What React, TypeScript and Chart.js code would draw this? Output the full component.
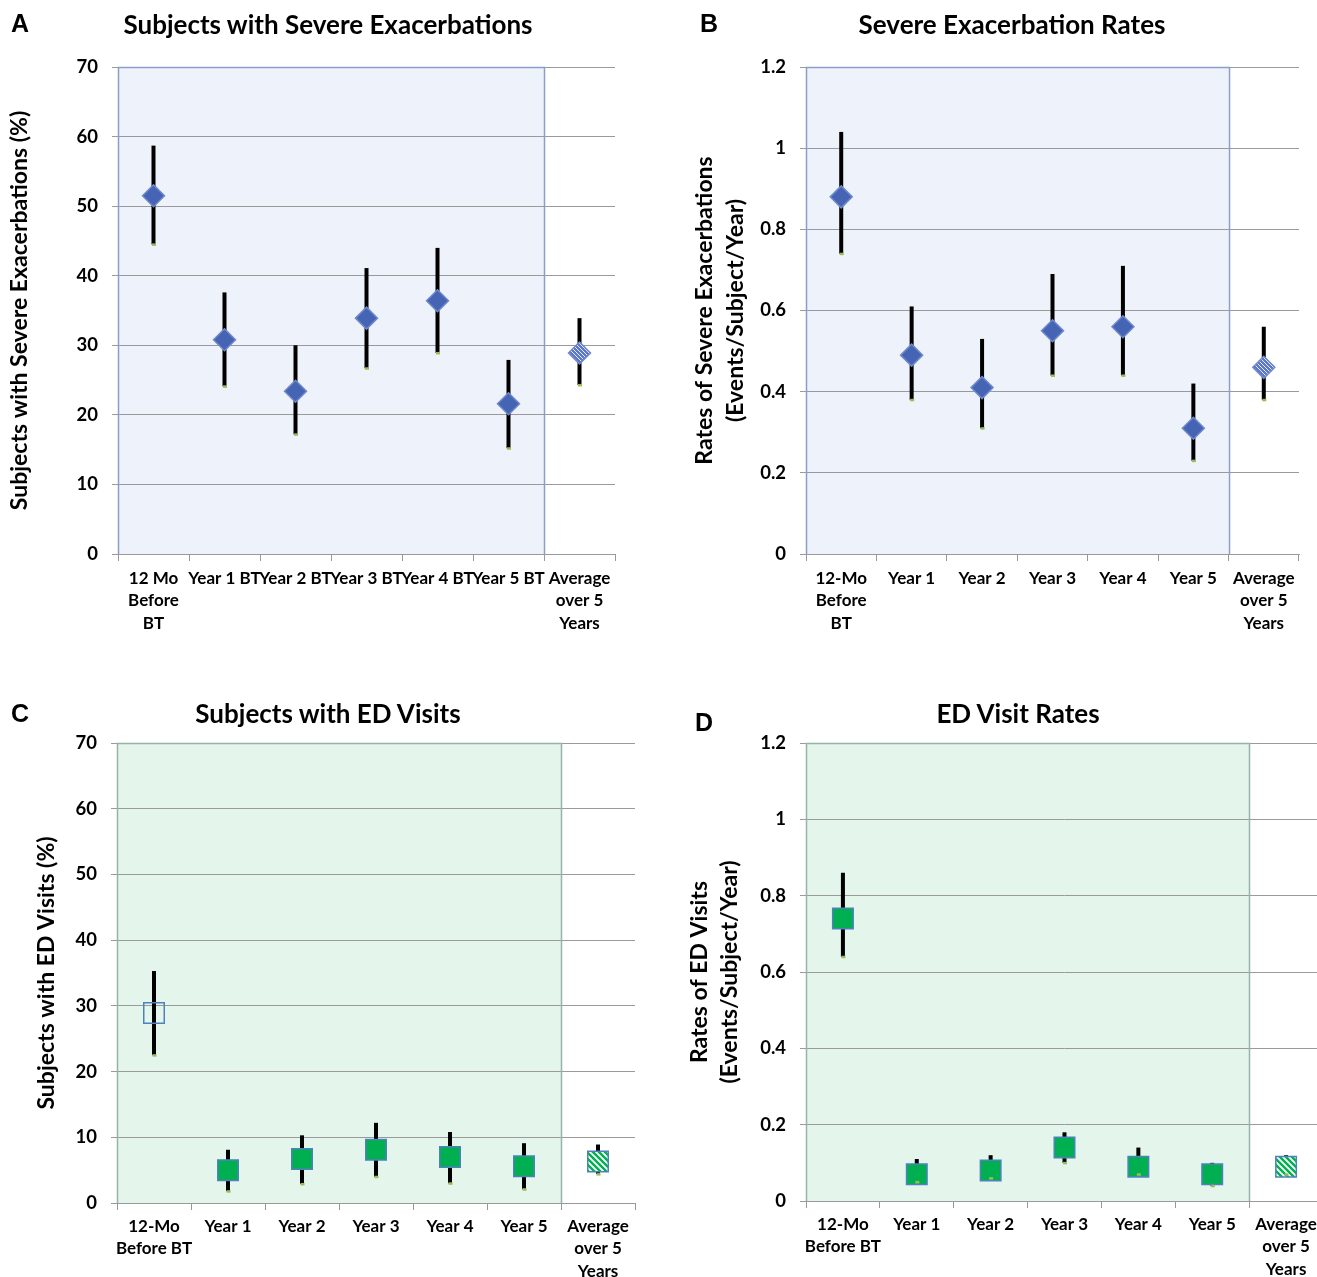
import React, { useEffect, useRef } from "react";
import { Chart, registerables } from "chart.js";

Chart.register(...registerables);

const FONT = "Lato, 'Open Sans', sans-serif";

// ---------- Panel A: Subjects with Severe Exacerbations (%) ----------
const categoriesA: (string | string[])[] = [
  ["12 Mo", "Before", "BT"],
  "Year 1 BT",
  "Year 2 BT",
  "Year 3 BT",
  "Year 4 BT",
  "Year 5 BT",
  ["Average", "over 5", "Years"],
];
const valuesA = [51.5, 30.8, 23.4, 33.9, 36.4, 21.6, 28.9];
const upperA = [58.7, 37.6, 30.0, 41.1, 44.0, 27.9, 33.9];
const lowerA = [44.5, 24.1, 17.2, 26.7, 28.9, 15.2, 24.3];
const yTicksA = [0, 10, 20, 30, 40, 50, 60, 70];

// ---------- Panel B: Severe Exacerbation Rates ----------
const categoriesB: (string | string[])[] = [
  ["12-Mo", "Before", "BT"],
  "Year 1",
  "Year 2",
  "Year 3",
  "Year 4",
  "Year 5",
  ["Average", "over 5", "Years"],
];
const valuesB = [0.88, 0.49, 0.41, 0.55, 0.56, 0.31, 0.46];
const upperB = [1.04, 0.61, 0.53, 0.69, 0.71, 0.42, 0.56];
const lowerB = [0.74, 0.38, 0.31, 0.44, 0.44, 0.23, 0.38];
const yTicksB = [0, 0.2, 0.4, 0.6, 0.8, 1, 1.2];

// ---------- Panel C: Subjects with ED Visits (%) ----------
const categoriesC: (string | string[])[] = [
  ["12-Mo", "Before BT"],
  "Year 1",
  "Year 2",
  "Year 3",
  "Year 4",
  "Year 5",
  ["Average", "over 5", "Years"],
];
const valuesC = [28.9, 5.0, 6.7, 8.1, 7.0, 5.6, 6.3];
const upperC = [35.3, 8.1, 10.3, 12.2, 10.8, 9.1, 8.9];
const lowerC = [22.5, 1.8, 2.9, 4.0, 3.0, 2.1, 4.4];
const yTicksC = [0, 10, 20, 30, 40, 50, 60, 70];

// ---------- Panel D: ED Visit Rates ----------
const categoriesD: (string | string[])[] = [
  ["12-Mo", "Before BT"],
  "Year 1",
  "Year 2",
  "Year 3",
  "Year 4",
  "Year 5",
  ["Average", "over 5", "Years"],
];
const valuesD = [0.74, 0.07, 0.08, 0.14, 0.09, 0.07, 0.09];
const upperD = [0.86, 0.11, 0.12, 0.18, 0.14, 0.1, 0.12];
const lowerD = [0.64, 0.05, 0.06, 0.1, 0.07, 0.04, 0.07];
const yTicksD = [0, 0.2, 0.4, 0.6, 0.8, 1, 1.2];

function stripes(bg: string, fg: string, period: number, lw: number) {
  const c = document.createElement("canvas");
  c.width = period;
  c.height = period;
  const g = c.getContext("2d")!;
  g.fillStyle = bg;
  g.fillRect(0, 0, period, period);
  g.strokeStyle = fg;
  g.lineWidth = lw;
  g.beginPath();
  for (const k of [-period, 0, period]) {
    g.moveTo(-1, -1 + k);
    g.lineTo(period + 1, period + 1 + k);
  }
  g.stroke();
  return g.createPattern(c, "repeat")!;
}

const shadePlugin = {
  id: "shade",
  beforeDraw(chart: any, _a: any, opts: any) {
    const { ctx, chartArea, scales } = chart;
    const x = scales.x;
    const right = (x.getPixelForValue(opts.last) + x.getPixelForValue(opts.last + 1)) / 2;
    ctx.save();
    ctx.fillStyle = opts.fill;
    ctx.fillRect(chartArea.left, chartArea.top, right - chartArea.left, chartArea.bottom - chartArea.top);
    ctx.restore();
  },
  beforeDatasetsDraw(chart: any, _a: any, opts: any) {
    const { ctx, chartArea, scales } = chart;
    const x = scales.x;
    const right = Math.round((x.getPixelForValue(opts.last) + x.getPixelForValue(opts.last + 1)) / 2) + 0.5;
    const left = Math.round(chartArea.left) + 0.5;
    const top = Math.round(chartArea.top) + 0.5;
    ctx.save();
    ctx.strokeStyle = opts.border;
    ctx.lineWidth = 1.5;
    ctx.beginPath();
    ctx.moveTo(left, chartArea.bottom);
    ctx.lineTo(left, top);
    ctx.lineTo(right, top);
    ctx.lineTo(right, chartArea.bottom);
    ctx.stroke();
    ctx.restore();
  },
};

const errorBarPlugin = {
  id: "errorBars",
  beforeDatasetsDraw(chart: any, _a: any, opts: any) {
    const { ctx, scales } = chart;
    const x = scales.x;
    const y = scales.y;
    ctx.save();
    ctx.strokeStyle = "#000";
    ctx.lineWidth = 4;
    ctx.lineCap = "butt";
    opts.upper.forEach((hi: number, i: number) => {
      const px = x.getPixelForValue(i);
      ctx.beginPath();
      ctx.moveTo(px, y.getPixelForValue(hi));
      ctx.lineTo(px, y.getPixelForValue(opts.lower[i]));
      ctx.stroke();
    });
    ctx.restore();
  },
  afterDatasetsDraw(chart: any, _a: any, opts: any) {
    const { ctx, scales } = chart;
    const x = scales.x;
    const y = scales.y;
    ctx.save();
    ctx.fillStyle = "#9BBB59";
    opts.lower.forEach((lo: number, i: number) => {
      const px = x.getPixelForValue(i);
      const py = y.getPixelForValue(lo);
      ctx.fillRect(px - 1.5, py - 1, 4, 2.5);
    });
    ctx.restore();
  },
};

type PanelProps = {
  labels: (string | string[])[];
  values: number[];
  upper: number[];
  lower: number[];
  yTicks: number[];
  yTitle: string | string[];
  yTitlePad: number;
  yTitleLH: number;
  kind: "diamond" | "square";
  hollowFirst?: boolean;
  shadeFill: string;
  shadeBorder: string;
  left: number;
  top: number;
  width: number;
  height: number;
  areaLeft: number;
  areaRight: number;
  areaTop: number;
  areaBottom: number;
  xPad: number;
};

function Panel(p: PanelProps) {
  const ref = useRef<HTMLCanvasElement | null>(null);
  useEffect(() => {
    const canvas = ref.current!;
    const n = p.values.length;
    const isDiamond = p.kind === "diamond";
    const fill = isDiamond ? "#4564B4" : "#00B050";
    const border = isDiamond ? "#6F88CC" : "#4F81BD";
    const pattern = isDiamond
      ? stripes("#5C79C8", "rgba(255,255,255,0.85)", 4, 1)
      : stripes("#00B050", "#FFFFFF", 6, 1.8);
    const yMax = p.yTicks[p.yTicks.length - 1];
    const chart = new Chart(canvas, {
      type: "line",
      data: {
        labels: p.labels as any,
        datasets: [
          {
            data: p.values,
            showLine: false,
            pointStyle: p.values.map(() => (isDiamond ? "rectRot" : "rect")) as any,
            pointRadius: isDiamond ? 11 : 14.5,
            pointBackgroundColor: p.values.map((_, i) =>
              i === n - 1 ? pattern : p.hollowFirst && i === 0 ? "rgba(0,0,0,0)" : fill
            ) as any,
            pointBorderColor: border,
            pointBorderWidth: 1.5,
            clip: false as any,
          },
        ],
      },
      options: {
        responsive: false,
        animation: false,
        events: [],
        layout: {
          padding: {
            left: 0,
            top: p.areaTop,
            right: p.width - p.areaRight,
            bottom: 0,
          },
        },
        plugins: {
          legend: { display: false },
          tooltip: { enabled: false },
          title: { display: false },
          shade: { last: n - 2, fill: p.shadeFill, border: p.shadeBorder },
          errorBars: { upper: p.upper, lower: p.lower },
        } as any,
        scales: {
          x: {
            offset: true,
            grid: {
              offset: true,
              drawOnChartArea: false,
              drawTicks: true,
              tickLength: 7,
              color: "#999999",
            },
            border: { display: true, color: "#999999", width: 1 },
            ticks: {
              autoSkip: false,
              maxRotation: 0,
              minRotation: 0,
              padding: p.xPad,
              color: "#000",
              font: { family: FONT, size: 17, weight: "bold", lineHeight: 1.32 },
            },
            afterFit: (s: any) => {
              s.height = p.height - p.areaBottom;
            },
          },
          y: {
            min: 0,
            max: yMax,
            afterBuildTicks: (s: any) => {
              s.ticks = p.yTicks.map((v) => ({ value: v }));
            },
            ticks: {
              padding: 14,
              color: "#000",
              font: { family: FONT, size: 18.5, weight: "bold" },
              callback: (v: any) => String(v),
            },
            grid: { color: "#9A9A9A", drawTicks: true, tickLength: 6, lineWidth: 1 },
            border: { display: false },
            title: {
              display: true,
              text: p.yTitle as any,
              color: "#000",
              font: { family: FONT, size: 23, weight: "bold", lineHeight: p.yTitleLH },
              padding: { top: p.yTitlePad, bottom: 0 },
            },
            afterFit: (s: any) => {
              s.width = p.areaLeft;
            },
          },
        },
      },
      plugins: [shadePlugin, errorBarPlugin],
    });
    return () => chart.destroy();
  }, []);
  return (
    <canvas
      ref={ref}
      width={p.width}
      height={p.height}
      style={{ position: "absolute", left: p.left, top: p.top, width: p.width, height: p.height, display: "block" }}
    />
  );
}

function Text(props: { text: string; cx: number; cy: number; size: number; family: string }) {
  const w = 700;
  return (
    <div
      style={{
        position: "absolute",
        left: props.cx - w / 2,
        top: props.cy - props.size * 0.7,
        width: w,
        height: props.size * 1.4,
        lineHeight: `${props.size * 1.4}px`,
        textAlign: "center",
        fontFamily: props.family,
        fontWeight: "bold",
        fontSize: props.size,
        color: "#000",
        whiteSpace: "nowrap",
      }}
    >
      {props.text}
    </div>
  );
}

export default function App() {
  const blueFill = "#EEF2FA";
  const blueBorder = "#8D9DC9";
  const greenFill = "#E4F5EC";
  const greenBorder = "#93B4A6";
  const LETTER = "'Liberation Sans', Arial, sans-serif";
  return (
    <div
      style={{
        position: "absolute",
        left: 0,
        top: 0,
        width: 1317,
        height: 1277,
        overflow: "hidden",
        background: "#fff",
      }}
    >
      <Panel
        labels={categoriesA}
        values={valuesA}
        upper={upperA}
        lower={lowerA}
        yTicks={yTicksA}
        yTitle="Subjects with Severe Exacerbations (%)"
        yTitlePad={6}
        yTitleLH={1.2}
        kind="diamond"
        shadeFill={blueFill}
        shadeBorder={blueBorder}
        left={0}
        top={0}
        width={658}
        height={640}
        areaLeft={118}
        areaRight={615}
        areaTop={67}
        areaBottom={554}
        xPad={6}
      />
      <Panel
        labels={categoriesB}
        values={valuesB}
        upper={upperB}
        lower={lowerB}
        yTicks={yTicksB}
        yTitle={["Rates of Severe Exacerbations", "(Events/Subject/Year)"]}
        yTitlePad={31}
        yTitleLH={1.35}
        kind="diamond"
        shadeFill={blueFill}
        shadeBorder={blueBorder}
        left={658}
        top={0}
        width={659}
        height={640}
        areaLeft={148}
        areaRight={641}
        areaTop={67}
        areaBottom={554}
        xPad={6}
      />
      <Panel
        labels={categoriesC}
        values={valuesC}
        upper={upperC}
        lower={lowerC}
        yTicks={yTicksC}
        yTitle="Subjects with ED Visits (%)"
        yTitlePad={33}
        yTitleLH={1.2}
        kind="square"
        hollowFirst
        shadeFill={greenFill}
        shadeBorder={greenBorder}
        left={0}
        top={640}
        width={658}
        height={637}
        areaLeft={117}
        areaRight={635}
        areaTop={103}
        areaBottom={563}
        xPad={5}
      />
      <Panel
        labels={categoriesD}
        values={valuesD}
        upper={upperD}
        lower={lowerD}
        yTicks={yTicksD}
        yTitle={["Rates of ED Visits", "(Events/Subject/Year)"]}
        yTitlePad={27}
        yTitleLH={1.3}
        kind="square"
        shadeFill={greenFill}
        shadeBorder={greenBorder}
        left={658}
        top={640}
        width={681}
        height={637}
        areaLeft={148}
        areaRight={665}
        areaTop={103}
        areaBottom={561}
        xPad={5}
      />
      <Text text="Subjects with Severe Exacerbations" cx={328} cy={24} size={26} family={FONT} />
      <Text text="Severe Exacerbation Rates" cx={1012} cy={24} size={26} family={FONT} />
      <Text text="Subjects with ED Visits" cx={328} cy={713} size={26} family={FONT} />
      <Text text="ED Visit Rates" cx={1018} cy={713} size={26} family={FONT} />
      <Text text="A" cx={20} cy={23} size={25} family={LETTER} />
      <Text text="B" cx={709} cy={23} size={25} family={LETTER} />
      <Text text="C" cx={20} cy={713} size={25} family={LETTER} />
      <Text text="D" cx={704} cy={722} size={25} family={LETTER} />
    </div>
  );
}
